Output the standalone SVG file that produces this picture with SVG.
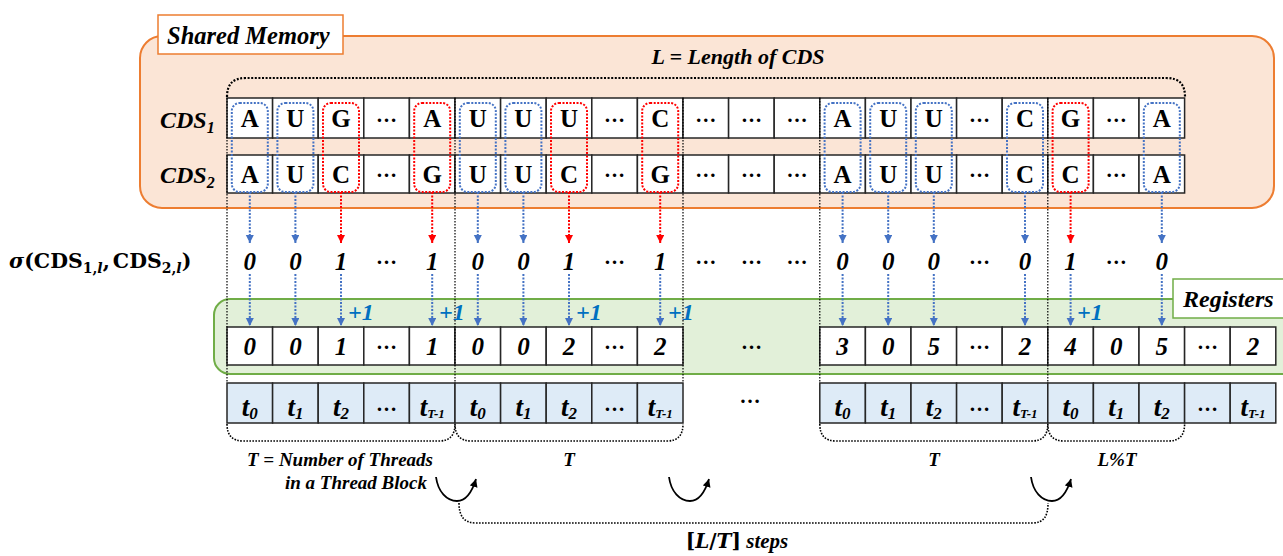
<svg xmlns="http://www.w3.org/2000/svg" width="1283" height="556" viewBox="0 0 1283 556">
<defs>
<style>
.ser{font-family:"Liberation Serif","Times New Roman",serif;font-weight:bold;font-style:italic;fill:#000}
.let{font-family:"Liberation Serif","Times New Roman",serif;font-weight:bold;font-size:25px;text-anchor:middle}
.num{font-family:"Liberation Serif","Times New Roman",serif;font-weight:bold;font-style:italic;font-size:25px;text-anchor:middle}
.dots{font-family:"Liberation Serif","Times New Roman",serif;font-weight:bold;font-size:21px;text-anchor:middle}
.tl{font-family:"Liberation Serif","Times New Roman",serif;font-weight:bold;font-style:italic;font-size:27px;text-anchor:middle}
.cell{fill:#fff;stroke:#262626;stroke-width:1.5}
.tcell{fill:#deebf7;stroke:#262626;stroke-width:1.5}
.bbox{fill:none;stroke:#4472c4;stroke-width:2;stroke-dasharray:2 1.5}
.rbox{fill:none;stroke:#ff0000;stroke-width:2;stroke-dasharray:2 1.5}
.barr{fill:none;stroke:#4472c4;stroke-width:2;stroke-dasharray:2 1.5;marker-end:url(#ab)}
.rarr{fill:none;stroke:#ff0000;stroke-width:2;stroke-dasharray:2 1.5;marker-end:url(#ar)}
.sep{fill:none;stroke:#000;stroke-width:1.2;stroke-dasharray:1.5 1.5}
.brk{fill:none;stroke:#000;stroke-width:2.2;stroke-dasharray:2 1.6}
.brc{fill:none;stroke:#000;stroke-width:1.6;stroke-dasharray:1.6 1.4}
.curv{fill:none;stroke:#000;stroke-width:1.8;marker-end:url(#ak)}
.plus{font-family:"Liberation Serif","Times New Roman",serif;font-weight:bold;font-style:italic;font-size:24px;fill:#0070c0}
</style>
<marker id="ab" markerUnits="userSpaceOnUse" markerWidth="10" markerHeight="10" refX="8" refY="4" orient="auto"><path d="M0,0 L8,4 L0,8 z" fill="#4472c4"/></marker>
<marker id="ar" markerUnits="userSpaceOnUse" markerWidth="10" markerHeight="10" refX="8" refY="4" orient="auto"><path d="M0,0 L8,4 L0,8 z" fill="#ff0000"/></marker>
<marker id="ak" markerUnits="userSpaceOnUse" markerWidth="10" markerHeight="10" refX="8" refY="4" orient="auto"><path d="M0,0 L8,4 L0,8 z" fill="#000"/></marker>
</defs>

<g id="shared-memory">
<rect x="140" y="36" width="1134" height="172" rx="22" fill="#fbe5d6" stroke="#ed7d31" stroke-width="2"/>
<rect x="158" y="15" width="185" height="39" fill="#fff" stroke="#ed7d31" stroke-width="1.5"/>
<text class="ser" x="167" y="44" font-size="24.5">Shared Memory</text>
</g>

<g id="registers">
<rect x="214" y="299" width="1100" height="75" rx="16" fill="#e2f0d9" stroke="#70ad47" stroke-width="2"/>
<rect x="1173" y="279" width="130" height="39" fill="#fff" stroke="#70ad47" stroke-width="1.5"/>
<text class="ser" x="1183" y="307" font-size="24">Registers</text>
</g>

<g id="length-bracket">
<path class="brk" d="M227,97 C227,84 233,78 246,78 H1166 C1179,78 1185,84 1185,97"/>
<text class="ser" x="738" y="64" font-size="22" text-anchor="middle">L = Length of CDS</text>
</g>

<g id="cds1">
<text class="ser" x="160" y="128" font-size="24">CDS<tspan font-size="16" dy="5">1</tspan></text>
<rect class="cell" x="227" y="98" width="45.6" height="40"/>
<rect class="cell" x="272.6" y="98" width="45.6" height="40"/>
<rect class="cell" x="318.2" y="98" width="45.6" height="40"/>
<rect class="cell" x="363.8" y="98" width="45.6" height="40"/>
<rect class="cell" x="409.4" y="98" width="45.6" height="40"/>
<rect class="cell" x="455" y="98" width="45.6" height="40"/>
<rect class="cell" x="500.6" y="98" width="45.6" height="40"/>
<rect class="cell" x="546.2" y="98" width="45.6" height="40"/>
<rect class="cell" x="591.8" y="98" width="45.6" height="40"/>
<rect class="cell" x="637.4" y="98" width="45.6" height="40"/>
<rect class="cell" x="683" y="98" width="45.6" height="40"/>
<rect class="cell" x="728.6" y="98" width="45.6" height="40"/>
<rect class="cell" x="774.2" y="98" width="45.6" height="40"/>
<rect class="cell" x="819.8" y="98" width="45.6" height="40"/>
<rect class="cell" x="865.4" y="98" width="45.6" height="40"/>
<rect class="cell" x="911" y="98" width="45.6" height="40"/>
<rect class="cell" x="956.6" y="98" width="45.6" height="40"/>
<rect class="cell" x="1002.2" y="98" width="45.6" height="40"/>
<rect class="cell" x="1047.8" y="98" width="45.6" height="40"/>
<rect class="cell" x="1093.4" y="98" width="45.6" height="40"/>
<rect class="cell" x="1139" y="98" width="45.6" height="40"/>
<text class="let" x="249.8" y="127">A</text>
<text class="let" x="295.4" y="127">U</text>
<text class="let" x="341" y="127">G</text>
<text class="dots" x="386.6" y="122">…</text>
<text class="let" x="432.2" y="127">A</text>
<text class="let" x="477.8" y="127">U</text>
<text class="let" x="523.4" y="127">U</text>
<text class="let" x="569" y="127">U</text>
<text class="dots" x="614.6" y="122">…</text>
<text class="let" x="660.2" y="127">C</text>
<text class="dots" x="705.8" y="122">…</text>
<text class="dots" x="751.4" y="122">…</text>
<text class="dots" x="797" y="122">…</text>
<text class="let" x="842.6" y="127">A</text>
<text class="let" x="888.2" y="127">U</text>
<text class="let" x="933.8" y="127">U</text>
<text class="dots" x="979.4" y="122">…</text>
<text class="let" x="1025" y="127">C</text>
<text class="let" x="1070.6" y="127">G</text>
<text class="dots" x="1116.2" y="122">…</text>
<text class="let" x="1161.8" y="127">A</text>
</g>

<g id="cds2">
<text class="ser" x="160" y="183" font-size="24">CDS<tspan font-size="16" dy="5">2</tspan></text>
<rect class="cell" x="227" y="155" width="45.6" height="38"/>
<rect class="cell" x="272.6" y="155" width="45.6" height="38"/>
<rect class="cell" x="318.2" y="155" width="45.6" height="38"/>
<rect class="cell" x="363.8" y="155" width="45.6" height="38"/>
<rect class="cell" x="409.4" y="155" width="45.6" height="38"/>
<rect class="cell" x="455" y="155" width="45.6" height="38"/>
<rect class="cell" x="500.6" y="155" width="45.6" height="38"/>
<rect class="cell" x="546.2" y="155" width="45.6" height="38"/>
<rect class="cell" x="591.8" y="155" width="45.6" height="38"/>
<rect class="cell" x="637.4" y="155" width="45.6" height="38"/>
<rect class="cell" x="683" y="155" width="45.6" height="38"/>
<rect class="cell" x="728.6" y="155" width="45.6" height="38"/>
<rect class="cell" x="774.2" y="155" width="45.6" height="38"/>
<rect class="cell" x="819.8" y="155" width="45.6" height="38"/>
<rect class="cell" x="865.4" y="155" width="45.6" height="38"/>
<rect class="cell" x="911" y="155" width="45.6" height="38"/>
<rect class="cell" x="956.6" y="155" width="45.6" height="38"/>
<rect class="cell" x="1002.2" y="155" width="45.6" height="38"/>
<rect class="cell" x="1047.8" y="155" width="45.6" height="38"/>
<rect class="cell" x="1093.4" y="155" width="45.6" height="38"/>
<rect class="cell" x="1139" y="155" width="45.6" height="38"/>
<text class="let" x="249.8" y="183">A</text>
<text class="let" x="295.4" y="183">U</text>
<text class="let" x="341" y="183">C</text>
<text class="dots" x="386.6" y="177">…</text>
<text class="let" x="432.2" y="183">G</text>
<text class="let" x="477.8" y="183">U</text>
<text class="let" x="523.4" y="183">U</text>
<text class="let" x="569" y="183">C</text>
<text class="dots" x="614.6" y="177">…</text>
<text class="let" x="660.2" y="183">G</text>
<text class="dots" x="705.8" y="177">…</text>
<text class="dots" x="751.4" y="177">…</text>
<text class="dots" x="797" y="177">…</text>
<text class="let" x="842.6" y="183">A</text>
<text class="let" x="888.2" y="183">U</text>
<text class="let" x="933.8" y="183">U</text>
<text class="dots" x="979.4" y="177">…</text>
<text class="let" x="1025" y="183">C</text>
<text class="let" x="1070.6" y="183">C</text>
<text class="dots" x="1116.2" y="177">…</text>
<text class="let" x="1161.8" y="183">A</text>
</g>

<g id="compare-boxes">
<rect class="bbox" x="231.8" y="103" width="36" height="89" rx="8"/>
<rect class="bbox" x="277.4" y="103" width="36" height="89" rx="8"/>
<rect class="rbox" x="323" y="103" width="36" height="89" rx="8"/>
<rect class="rbox" x="414.2" y="103" width="36" height="89" rx="8"/>
<rect class="bbox" x="459.8" y="103" width="36" height="89" rx="8"/>
<rect class="bbox" x="505.4" y="103" width="36" height="89" rx="8"/>
<rect class="rbox" x="551" y="103" width="36" height="89" rx="8"/>
<rect class="rbox" x="642.2" y="103" width="36" height="89" rx="8"/>
<rect class="bbox" x="824.6" y="103" width="36" height="89" rx="8"/>
<rect class="bbox" x="870.2" y="103" width="36" height="89" rx="8"/>
<rect class="bbox" x="915.8" y="103" width="36" height="89" rx="8"/>
<rect class="bbox" x="1007" y="103" width="36" height="89" rx="8"/>
<rect class="rbox" x="1052.6" y="103" width="36" height="89" rx="8"/>
<rect class="bbox" x="1143.8" y="103" width="36" height="89" rx="8"/>
</g>

<g id="sigma-row">
<text x="9" y="268" font-family="DejaVu Serif, serif" font-weight="bold" font-size="20.5"><tspan font-style="italic">σ</tspan><tspan>(CDS</tspan><tspan font-size="14" dy="5">1,</tspan><tspan font-size="14" font-style="italic">l</tspan><tspan dy="-5">,</tspan><tspan dx="3">CDS</tspan><tspan font-size="14" dy="5">2,</tspan><tspan font-size="14" font-style="italic">l</tspan><tspan dy="-5">)</tspan></text>
<text class="num" x="249.8" y="270">0</text>
<text class="num" x="295.4" y="270">0</text>
<text class="num" x="341" y="270">1</text>
<text class="dots" x="386.6" y="264">…</text>
<text class="num" x="432.2" y="270">1</text>
<text class="num" x="477.8" y="270">0</text>
<text class="num" x="523.4" y="270">0</text>
<text class="num" x="569" y="270">1</text>
<text class="dots" x="614.6" y="264">…</text>
<text class="num" x="660.2" y="270">1</text>
<text class="dots" x="705.8" y="264">…</text>
<text class="dots" x="751.4" y="264">…</text>
<text class="dots" x="797" y="264">…</text>
<text class="num" x="842.6" y="270">0</text>
<text class="num" x="888.2" y="270">0</text>
<text class="num" x="933.8" y="270">0</text>
<text class="dots" x="979.4" y="264">…</text>
<text class="num" x="1025" y="270">0</text>
<text class="num" x="1070.6" y="270">1</text>
<text class="dots" x="1116.2" y="264">…</text>
<text class="num" x="1161.8" y="270">0</text>
</g>

<g id="register-cells">
<rect class="cell" x="227" y="327" width="45.6" height="38"/>
<rect class="cell" x="272.6" y="327" width="45.6" height="38"/>
<rect class="cell" x="318.2" y="327" width="45.6" height="38"/>
<rect class="cell" x="363.8" y="327" width="45.6" height="38"/>
<rect class="cell" x="409.4" y="327" width="45.6" height="38"/>
<rect class="cell" x="455" y="327" width="45.6" height="38"/>
<rect class="cell" x="500.6" y="327" width="45.6" height="38"/>
<rect class="cell" x="546.2" y="327" width="45.6" height="38"/>
<rect class="cell" x="591.8" y="327" width="45.6" height="38"/>
<rect class="cell" x="637.4" y="327" width="45.6" height="38"/>
<rect class="cell" x="819.8" y="327" width="45.6" height="38"/>
<rect class="cell" x="865.4" y="327" width="45.6" height="38"/>
<rect class="cell" x="911" y="327" width="45.6" height="38"/>
<rect class="cell" x="956.6" y="327" width="45.6" height="38"/>
<rect class="cell" x="1002.2" y="327" width="45.6" height="38"/>
<rect class="cell" x="1047.8" y="327" width="45.6" height="38"/>
<rect class="cell" x="1093.4" y="327" width="45.6" height="38"/>
<rect class="cell" x="1139" y="327" width="45.6" height="38"/>
<rect class="cell" x="1184.6" y="327" width="45.6" height="38"/>
<rect class="cell" x="1230.2" y="327" width="45.6" height="38"/>
<text class="num" x="249.8" y="355">0</text>
<text class="num" x="295.4" y="355">0</text>
<text class="num" x="341" y="355">1</text>
<text class="dots" x="386.6" y="349">…</text>
<text class="num" x="432.2" y="355">1</text>
<text class="num" x="477.8" y="355">0</text>
<text class="num" x="523.4" y="355">0</text>
<text class="num" x="569" y="355">2</text>
<text class="dots" x="614.6" y="349">…</text>
<text class="num" x="660.2" y="355">2</text>
<text class="dots" x="751.4" y="349">…</text>
<text class="num" x="842.6" y="355">3</text>
<text class="num" x="888.2" y="355">0</text>
<text class="num" x="933.8" y="355">5</text>
<text class="dots" x="979.4" y="349">…</text>
<text class="num" x="1025" y="355">2</text>
<text class="num" x="1070.6" y="355">4</text>
<text class="num" x="1116.2" y="355">0</text>
<text class="num" x="1161.8" y="355">5</text>
<text class="dots" x="1207.4" y="349">…</text>
<text class="num" x="1253" y="355">2</text>
</g>

<g id="thread-cells">
<rect class="tcell" x="227" y="383" width="45.6" height="40"/>
<rect class="tcell" x="272.6" y="383" width="45.6" height="40"/>
<rect class="tcell" x="318.2" y="383" width="45.6" height="40"/>
<rect class="tcell" x="363.8" y="383" width="45.6" height="40"/>
<rect class="tcell" x="409.4" y="383" width="45.6" height="40"/>
<rect class="tcell" x="455" y="383" width="45.6" height="40"/>
<rect class="tcell" x="500.6" y="383" width="45.6" height="40"/>
<rect class="tcell" x="546.2" y="383" width="45.6" height="40"/>
<rect class="tcell" x="591.8" y="383" width="45.6" height="40"/>
<rect class="tcell" x="637.4" y="383" width="45.6" height="40"/>
<rect class="tcell" x="819.8" y="383" width="45.6" height="40"/>
<rect class="tcell" x="865.4" y="383" width="45.6" height="40"/>
<rect class="tcell" x="911" y="383" width="45.6" height="40"/>
<rect class="tcell" x="956.6" y="383" width="45.6" height="40"/>
<rect class="tcell" x="1002.2" y="383" width="45.6" height="40"/>
<rect class="tcell" x="1047.8" y="383" width="45.6" height="40"/>
<rect class="tcell" x="1093.4" y="383" width="45.6" height="40"/>
<rect class="tcell" x="1139" y="383" width="45.6" height="40"/>
<rect class="tcell" x="1184.6" y="383" width="45.6" height="40"/>
<rect class="tcell" x="1230.2" y="383" width="45.6" height="40"/>
<text class="tl" x="249.8" y="416">t<tspan font-size="17" dy="3">0</tspan></text>
<text class="tl" x="295.4" y="416">t<tspan font-size="17" dy="3">1</tspan></text>
<text class="tl" x="341" y="416">t<tspan font-size="17" dy="3">2</tspan></text>
<text class="dots" x="386.6" y="411">…</text>
<text class="tl" x="432.2" y="416">t<tspan font-size="13" dy="2">T-1</tspan></text>
<text class="tl" x="477.8" y="416">t<tspan font-size="17" dy="3">0</tspan></text>
<text class="tl" x="523.4" y="416">t<tspan font-size="17" dy="3">1</tspan></text>
<text class="tl" x="569" y="416">t<tspan font-size="17" dy="3">2</tspan></text>
<text class="dots" x="614.6" y="411">…</text>
<text class="tl" x="660.2" y="416">t<tspan font-size="13" dy="2">T-1</tspan></text>
<text class="dots" x="750" y="403">…</text>
<text class="tl" x="842.6" y="416">t<tspan font-size="17" dy="3">0</tspan></text>
<text class="tl" x="888.2" y="416">t<tspan font-size="17" dy="3">1</tspan></text>
<text class="tl" x="933.8" y="416">t<tspan font-size="17" dy="3">2</tspan></text>
<text class="dots" x="979.4" y="411">…</text>
<text class="tl" x="1025" y="416">t<tspan font-size="13" dy="2">T-1</tspan></text>
<text class="tl" x="1070.6" y="416">t<tspan font-size="17" dy="3">0</tspan></text>
<text class="tl" x="1116.2" y="416">t<tspan font-size="17" dy="3">1</tspan></text>
<text class="tl" x="1161.8" y="416">t<tspan font-size="17" dy="3">2</tspan></text>
<text class="dots" x="1207.4" y="411">…</text>
<text class="tl" x="1253" y="416">t<tspan font-size="13" dy="2">T-1</tspan></text>
</g>

<g id="separators">
<line class="sep" x1="227" y1="98" x2="227" y2="383"/>
<line class="sep" x1="455" y1="98" x2="455" y2="383"/>
<line class="sep" x1="683" y1="98" x2="683" y2="383"/>
<line class="sep" x1="819.8" y1="98" x2="819.8" y2="383"/>
<line class="sep" x1="1047.8" y1="98" x2="1047.8" y2="383"/>
</g>

<g id="connectors">
<line class="barr" x1="249.8" y1="192" x2="249.8" y2="243"/>
<line class="barr" x1="295.4" y1="192" x2="295.4" y2="243"/>
<line class="rarr" x1="341" y1="192" x2="341" y2="243"/>
<line class="rarr" x1="432.2" y1="192" x2="432.2" y2="243"/>
<line class="barr" x1="477.8" y1="192" x2="477.8" y2="243"/>
<line class="barr" x1="523.4" y1="192" x2="523.4" y2="243"/>
<line class="rarr" x1="569" y1="192" x2="569" y2="243"/>
<line class="rarr" x1="660.2" y1="192" x2="660.2" y2="243"/>
<line class="barr" x1="842.6" y1="192" x2="842.6" y2="243"/>
<line class="barr" x1="888.2" y1="192" x2="888.2" y2="243"/>
<line class="barr" x1="933.8" y1="192" x2="933.8" y2="243"/>
<line class="barr" x1="1025" y1="192" x2="1025" y2="243"/>
<line class="rarr" x1="1070.6" y1="192" x2="1070.6" y2="243"/>
<line class="barr" x1="1161.8" y1="192" x2="1161.8" y2="243"/>

<line class="barr" x1="249.8" y1="274" x2="249.8" y2="326"/>
<line class="barr" x1="295.4" y1="274" x2="295.4" y2="326"/>
<line class="barr" x1="341" y1="274" x2="341" y2="326"/>
<line class="barr" x1="432.2" y1="274" x2="432.2" y2="326"/>
<line class="barr" x1="477.8" y1="274" x2="477.8" y2="326"/>
<line class="barr" x1="523.4" y1="274" x2="523.4" y2="326"/>
<line class="barr" x1="569" y1="274" x2="569" y2="326"/>
<line class="barr" x1="660.2" y1="274" x2="660.2" y2="326"/>
<line class="barr" x1="842.6" y1="274" x2="842.6" y2="326"/>
<line class="barr" x1="888.2" y1="274" x2="888.2" y2="326"/>
<line class="barr" x1="933.8" y1="274" x2="933.8" y2="326"/>
<line class="barr" x1="1025" y1="274" x2="1025" y2="326"/>
<line class="barr" x1="1070.6" y1="274" x2="1070.6" y2="326"/>
<line class="barr" x1="1161.8" y1="274" x2="1161.8" y2="326"/>

<text class="plus" x="348" y="320">+1</text>
<text class="plus" x="439" y="320">+1</text>
<text class="plus" x="576" y="320">+1</text>
<text class="plus" x="668" y="320">+1</text>
<text class="plus" x="1077" y="320">+1</text>

<path class="brc" d="M227,424 C227,435 232,441 243,441 H439 C450,441 455,435 455,424"/>
<path class="brc" d="M455,424 C455,435 460,441 471,441 H667 C678,441 683,435 683,424"/>
<path class="brc" d="M819.8,424 C819.8,435 824.8,441 835.8,441 H1031.8 C1042.8,441 1047.8,435 1047.8,424"/>
<path class="brc" d="M1047.8,424 C1047.8,435 1052.8,441 1063.8,441 H1168.6 C1179.6,441 1184.6,435 1184.6,424"/>

<path class="curv" d="M436,477 C438,492 447,501 457,501 C466,501 472,492 476,479"/>
<path class="curv" d="M669,477 C671,492 680,501 690,501 C699,501 705,492 709,479"/>
<path class="curv" d="M1031,477 C1033,492 1042,501 1052,501 C1061,501 1067,492 1071,479"/>

<path class="brc" d="M459,503 C459,516 464,523 476,523 H1032 C1044,523 1048,516 1048,503"/>
</g>

<g id="labels">
<text class="ser" x="340" y="466" font-size="19" text-anchor="middle">T = Number of Threads</text>
<text class="ser" x="427" y="489" font-size="19" text-anchor="end">in a Thread Block</text>
<text class="ser" x="569" y="466" font-size="19" text-anchor="middle">T</text>
<text class="ser" x="934" y="466" font-size="19" text-anchor="middle">T</text>
<text class="ser" x="1117" y="466" font-size="19" text-anchor="middle">L%T</text>
<text x="737" y="548" font-size="20" text-anchor="middle" font-weight="bold"><tspan font-family="DejaVu Serif, serif">[</tspan><tspan font-family="DejaVu Serif, serif" font-style="italic">L</tspan><tspan font-family="DejaVu Serif, serif">/</tspan><tspan font-family="DejaVu Serif, serif" font-style="italic">T</tspan><tspan font-family="DejaVu Serif, serif">]</tspan><tspan font-family="Liberation Serif, serif" font-style="italic" font-size="21"> steps</tspan></text>
</g>
</svg>
